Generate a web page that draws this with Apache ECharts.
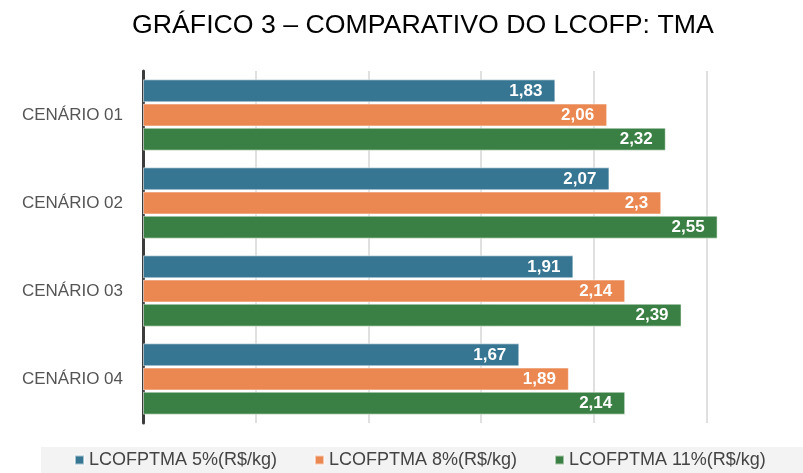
<!DOCTYPE html>
<html>
<head>
<meta charset="utf-8">
<script src="https://cdn.jsdelivr.net/npm/echarts@6/dist/echarts.min.js"></script>
<style>html,body{margin:0;padding:0;background:#fff;}#c{width:803px;height:473px;}</style>
</head>
<body>
<div id="c"></div>
<script>
const categories = ['CENÁRIO 01', 'CENÁRIO 02', 'CENÁRIO 03', 'CENÁRIO 04'];
const seriesNames = ['LCOFPTMA 5%(R$/kg)', 'LCOFPTMA 8%(R$/kg)', 'LCOFPTMA 11%(R$/kg)'];
const tma5 = [1.83, 2.07, 1.91, 1.67];
const tma8 = [2.06, 2.3, 2.14, 1.89];
const tma11 = [2.32, 2.55, 2.39, 2.14];
const colors = ['#377692', '#EB8750', '#3A7F43'];

const chart = echarts.init(document.getElementById('c'), null, {renderer: 'canvas'});
const mk = (name, data, color) => ({
  name: name,
  type: 'bar',
  data: data,
  barWidth: 23,
  barGap: '5%',
  itemStyle: {color: color, borderColor: 'rgba(255,255,255,0.55)', borderWidth: 1},
  label: {
    show: true,
    position: 'insideRight',
    distance: 13,
    color: '#fff',
    fontWeight: 'bold',
    fontSize: 17,
    fontFamily: 'Liberation Sans, Arial, sans-serif',
    formatter: p => String(p.value).replace('.', ',')
  }
});
chart.setOption({
  animation: false,
  backgroundColor: '#fff',
  title: {
    text: 'GRÁFICO 3 – COMPARATIVO DO LCOFP: TMA',
    left: 132,
    top: 12,
    padding: 0,
    textStyle: {fontFamily: 'Liberation Sans, Arial, sans-serif', fontSize: 26.7, fontWeight: 'normal', color: '#000'}
  },
  graphic: [{
    type: 'rect',
    left: 41,
    top: 447,
    z: -10,
    silent: true,
    shape: {width: 762, height: 26},
    style: {fill: '#f3f3f3'}
  }],
  legend: {
    data: seriesNames,
    left: 74,
    top: 451,
    padding: 0,
    width: 729,
    itemWidth: 9,
    itemHeight: 9,
    itemGap: 37,
    icon: 'rect',
    textStyle: {fontFamily: 'Liberation Sans, Arial, sans-serif', fontSize: 18, color: '#444'}
  },
  grid: {left: 143, width: 676, top: 71, bottom: 50, containLabel: false, outerBoundsMode: 'none'},
  xAxis: {
    type: 'value',
    min: 0,
    max: 3,
    interval: 0.5,
    axisLine: {show: false},
    axisTick: {show: false},
    axisLabel: {show: false},
    splitLine: {show: true, showMaxLine: false, lineStyle: {color: '#d6d6d6', width: 1.5}}
  },
  yAxis: {
    type: 'category',
    data: categories,
    inverse: true,
    axisLine: {show: true, lineStyle: {color: '#3c3c3c', width: 3}},
    axisTick: {show: false},
    axisLabel: {margin: 20, color: '#555', fontSize: 17, fontFamily: 'Liberation Sans, Arial, sans-serif'}
  },
  series: [mk(seriesNames[0], tma5, colors[0]), mk(seriesNames[1], tma8, colors[1]), mk(seriesNames[2], tma11, colors[2])]
});
</script>
</body>
</html>
